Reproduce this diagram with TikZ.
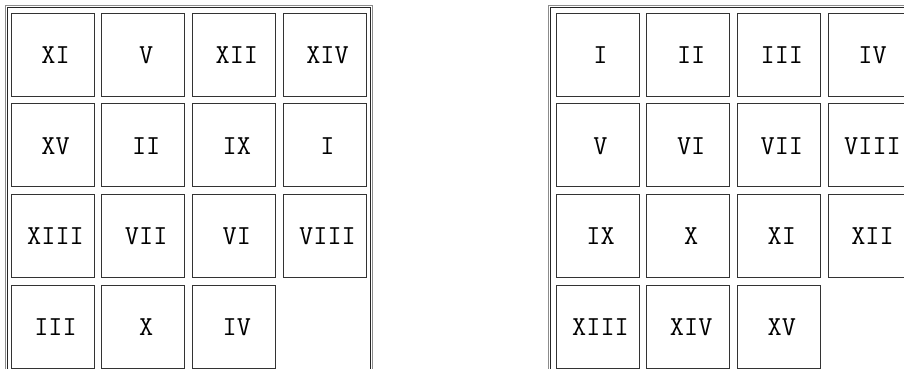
\documentclass[tikz,border=0pt]{standalone}
\begin{document}
\begin{tikzpicture}[x=1pt,y=-1pt,
  cell/.style={draw=black!80,line width=1.1pt,minimum size=83pt,inner sep=0pt,anchor=north west},
  lbl/.style={font=\fontsize{27.5}{27.5}\selectfont\ttfamily,xshift=3pt,yshift=-0.5pt,text=black},
  frameout/.style={draw=black!45,line width=1pt},
  framein/.style={draw=black!85,line width=1pt}]
\useasboundingbox (0,0) rectangle (904,368);
\clip (0,0) rectangle (904,368);
% frames
\draw[frameout] (5,380) -- (5,5.5) -- (372,5.5) -- (372,380);
\draw[framein] (7,380) -- (7,7.5) -- (370,7.5) -- (370,380);
\draw[frameout] (548,380) -- (548,5.5) -- (920,5.5);
\draw[framein] (550,380) -- (550,7.5) -- (920,7.5);
% left grid
\foreach \t [count=\k from 0] in {XI,V,XII,XIV,XV,II,IX,I,XIII,VII,VI,VIII,III,X,IV}{
  \pgfmathtruncatemacro{\c}{mod(\k,4)}
  \pgfmathtruncatemacro{\r}{div(\k,4)}
  \node[cell] (L\k) at ({10.5+90.67*\c},{12.5+90.67*\r}) {};
  \node[lbl] (LT\k) at (L\k.center) {\t};
}
% right grid
\foreach \t [count=\k from 0] in {I,II,III,IV,V,VI,VII,VIII,IX,X,XI,XII,XIII,XIV,XV}{
  \pgfmathtruncatemacro{\c}{mod(\k,4)}
  \pgfmathtruncatemacro{\r}{div(\k,4)}
  \node[cell] (R\k) at ({555.5+90.67*\c},{12.5+90.67*\r}) {};
  \node[lbl] (RT\k) at (R\k.center) {\t};
}
\end{tikzpicture}
\end{document}
